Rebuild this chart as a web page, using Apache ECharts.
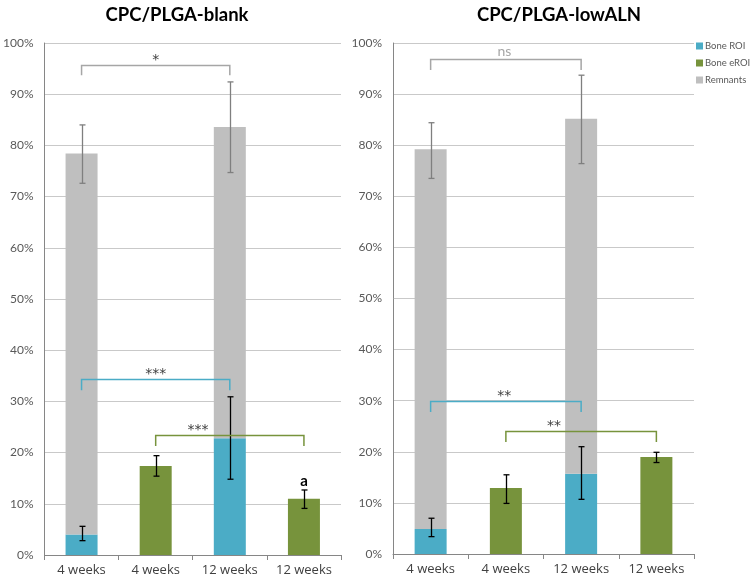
<!DOCTYPE html>
<html><head><meta charset="utf-8">
<script src="https://cdn.jsdelivr.net/npm/echarts@6/dist/echarts.min.js"></script>
<style>html,body{margin:0;padding:0;background:#fff}#c{width:750px;height:580px}</style>
</head><body><div id="c"></div>
<script>
// ---- data ----
const categories = ['4 weeks', '4 weeks', '12 weeks', '12 weeks'];
const seriesNames = ['Bone ROI', 'Bone eROI', 'Remnants'];
const titles = ['CPC/PLGA-blank', 'CPC/PLGA-lowALN'];

// CPC/PLGA-blank
const blankBoneROI = [4.0, null, 22.8, null];
const blankBoneEROI = [null, 17.4, null, 11.0];
const blankRemnantsTop = [78.4, null, 83.6, null];
const blankBoneROIErr = [[2.8, 5.6], null, [14.8, 30.9], null];
const blankBoneEROIErr = [null, [15.4, 19.4], null, [9.1, 12.7]];
const blankRemnantsErr = [[72.6, 84.0], null, [74.7, 92.4], null];
// brackets: [fromCat, toCat, level, legLevel, label, labelCat]
const blankRemnantsBracket = [0, 2, 95.8, 93.7, '*', 1.0];
const blankBoneROIBracket = [0, 2, 34.4, 32.2, '***', 1.0];
const blankBoneEROIBracket = [1, 3, 23.4, 21.3, '***', 1.57];
const blankNote = [3, 12.7, 'a'];

// CPC/PLGA-lowALN
const lowBoneROI = [4.9, null, 15.7, null];
const lowBoneEROI = [null, 12.9, null, 19.0];
const lowRemnantsTop = [79.2, null, 85.2, null];
const lowBoneROIErr = [[3.4, 7.0], null, [10.7, 21.0], null];
const lowBoneEROIErr = [null, [9.9, 15.5], null, [17.9, 19.9]];
const lowRemnantsErr = [[73.5, 84.4], null, [76.4, 93.7], null];
const lowRemnantsBracket = [0, 2, 96.8, 94.7, 'ns', 0.98];
const lowBoneROIBracket = [0, 2, 30.0, 27.8, '**', 0.98];
const lowBoneEROIBracket = [1, 3, 24.0, 21.9, '**', 1.64];

// ---- styles ----
const COL_ROI = '#4BACC6', COL_EROI = '#77933C', COL_REM = '#BFBFBF';
const FONT = 'Lato, "Open Sans", sans-serif';
const STAR_FONT = '"DejaVu Sans", sans-serif';

function toBar(arr) { return arr.map(v => v == null ? '-' : v); }
function remSeg(top, bone) { return top.map((t, i) => t == null ? '-' : +(t - (bone[i] || 0)).toFixed(2)); }
function errData(arr) { const out = []; arr.forEach((e, i) => { if (e) out.push([i, e[0], e[1]]); }); return out; }

function errSeries(idx, data, color) {
  return {
    type: 'custom', xAxisIndex: idx, yAxisIndex: idx, z: 10, silent: true,
    data: data, encode: { x: 0, y: [1, 2] },
    renderItem: function (params, api) {
      const x = api.value(0);
      const lo = api.coord([x, api.value(1)]);
      const hi = api.coord([x, api.value(2)]);
      const c = Math.round(lo[0]) + 0.5, w = 3;
      const st = { stroke: color, lineWidth: 1.3 };
      return { type: 'group', children: [
        { type: 'line', shape: { x1: c, y1: lo[1], x2: c, y2: hi[1] }, style: st },
        { type: 'line', shape: { x1: c - w, y1: lo[1], x2: c + w, y2: lo[1] }, style: st },
        { type: 'line', shape: { x1: c - w, y1: hi[1], x2: c + w, y2: hi[1] }, style: st }
      ]};
    }
  };
}

function bracketSeries(idx, b, color, textColor, font, dy) {
  return {
    type: 'custom', xAxisIndex: idx, yAxisIndex: idx, z: 11, silent: true,
    data: [[b[0], b[1], b[2], b[3]]], encode: { x: [0, 1], y: [2, 3] },
    renderItem: function (params, api) {
      const a = api.coord([api.value(0), api.value(2)]);
      const bb = api.coord([api.value(1), api.value(2)]);
      const dropA = api.coord([api.value(0), api.value(3)]);
      const lc = b[5], i0 = Math.floor(lc), f = lc - i0;
      const p0 = api.coord([i0, api.value(2)]), p1 = api.coord([i0 + 1, api.value(2)]);
      const lx = p0[0] + f * (p1[0] - p0[0]);
      const y = Math.round(a[1]) + 0.5;
      const st = { stroke: color, lineWidth: 1.5, fill: null };
      return { type: 'group', children: [
        { type: 'polyline', shape: { points: [[a[0], dropA[1]], [a[0], y], [bb[0], y], [bb[0], dropA[1]]] }, style: st },
        { type: 'text', x: lx, y: y - dy, style: { text: b[4], fill: textColor, font: font, align: 'center', verticalAlign: 'middle' } }
      ]};
    }
  };
}

function noteSeries(idx, n) {
  return {
    type: 'custom', xAxisIndex: idx, yAxisIndex: idx, z: 11, silent: true,
    data: [n.slice(0, 2)], encode: { x: 0, y: 1 },
    renderItem: function (params, api) {
      const p = api.coord([api.value(0), api.value(1)]);
      return { type: 'text', x: p[0], y: p[1] - 1, style: { text: n[2], fill: '#000', font: 'bold 15px ' + FONT, align: 'center', verticalAlign: 'bottom' } };
    }
  };
}

function barSeries(idx, name, data, color) {
  return { name: name, type: 'bar', stack: 's' + idx, xAxisIndex: idx, yAxisIndex: idx,
    data: data, barWidth: 32, itemStyle: { color: color }, silent: true };
}

const grids = [
  { left: 41, right: 409, top: 43, bottom: 25 },
  { left: 393, right: 56, top: 43, bottom: 26 }
];

function xAxis(idx) {
  return { type: 'category', gridIndex: idx, data: categories,
    axisLine: { lineStyle: { color: '#868686', width: 1 } },
    axisTick: { show: true, length: 5, lineStyle: { color: '#868686' } },
    axisLabel: { color: '#404040', fontSize: 13, fontFamily: '"Open Sans", sans-serif', margin: 9 } };
}
function yAxis(idx) {
  return { type: 'value', gridIndex: idx, min: 0, max: 100, interval: 10,
    axisLine: { show: true, lineStyle: { color: '#868686', width: 1 } },
    axisTick: { show: false },
    splitLine: { lineStyle: { color: '#c9c9c9', width: 1 } },
    axisLabel: { formatter: '{value}%', color: '#595959', fontSize: 12, fontFamily: FONT, margin: 11 } };
}

const option = {
  animation: false,
  backgroundColor: '#fff',
  title: [
    { text: titles[0], left: 172, top: 1, textAlign: 'center', textStyle: { fontSize: 18.5, fontWeight: 'bold', color: '#000', fontFamily: FONT } },
    { text: titles[1], left: 554, top: 1, textAlign: 'center', textStyle: { fontSize: 18.5, fontWeight: 'bold', color: '#000', fontFamily: FONT } }
  ],
  legend: { data: seriesNames, orient: 'vertical', left: 696, top: 41, padding: 0, icon: 'rect', itemWidth: 7, itemHeight: 7, itemGap: 7,
    textStyle: { fontSize: 9.5, color: '#595959', fontFamily: FONT, width: 60, overflow: 'none', padding: [0, 0, 0, -3] }, selectedMode: false },
  grid: grids,
  xAxis: [xAxis(0), xAxis(1)],
  yAxis: [yAxis(0), yAxis(1)],
  series: [
    barSeries(0, seriesNames[0], toBar(blankBoneROI), COL_ROI),
    barSeries(0, seriesNames[1], toBar(blankBoneEROI), COL_EROI),
    barSeries(0, seriesNames[2], remSeg(blankRemnantsTop, blankBoneROI), COL_REM),
    barSeries(1, seriesNames[0], toBar(lowBoneROI), COL_ROI),
    barSeries(1, seriesNames[1], toBar(lowBoneEROI), COL_EROI),
    barSeries(1, seriesNames[2], remSeg(lowRemnantsTop, lowBoneROI), COL_REM),
    errSeries(0, errData(blankBoneROIErr), '#000'),
    errSeries(0, errData(blankBoneEROIErr), '#000'),
    errSeries(0, errData(blankRemnantsErr), '#7f7f7f'),
    errSeries(1, errData(lowBoneROIErr), '#000'),
    errSeries(1, errData(lowBoneEROIErr), '#000'),
    errSeries(1, errData(lowRemnantsErr), '#7f7f7f'),
    bracketSeries(0, blankRemnantsBracket, '#a6a6a6', '#404040', '14px ' + STAR_FONT, 5),
    bracketSeries(0, blankBoneROIBracket, COL_ROI, '#404040', '14px ' + STAR_FONT, 5),
    bracketSeries(0, blankBoneEROIBracket, COL_EROI, '#404040', '14px ' + STAR_FONT, 5),
    bracketSeries(1, lowRemnantsBracket, '#a6a6a6', '#a6a6a6', '14px ' + FONT, 8),
    bracketSeries(1, lowBoneROIBracket, COL_ROI, '#404040', '14px ' + STAR_FONT, 5),
    bracketSeries(1, lowBoneEROIBracket, COL_EROI, '#404040', '14px ' + STAR_FONT, 5),
    noteSeries(0, blankNote)
  ]
};
const chart = echarts.init(document.getElementById('c'), null, { renderer: 'canvas' });
chart.setOption(option);
</script>
</body></html>
